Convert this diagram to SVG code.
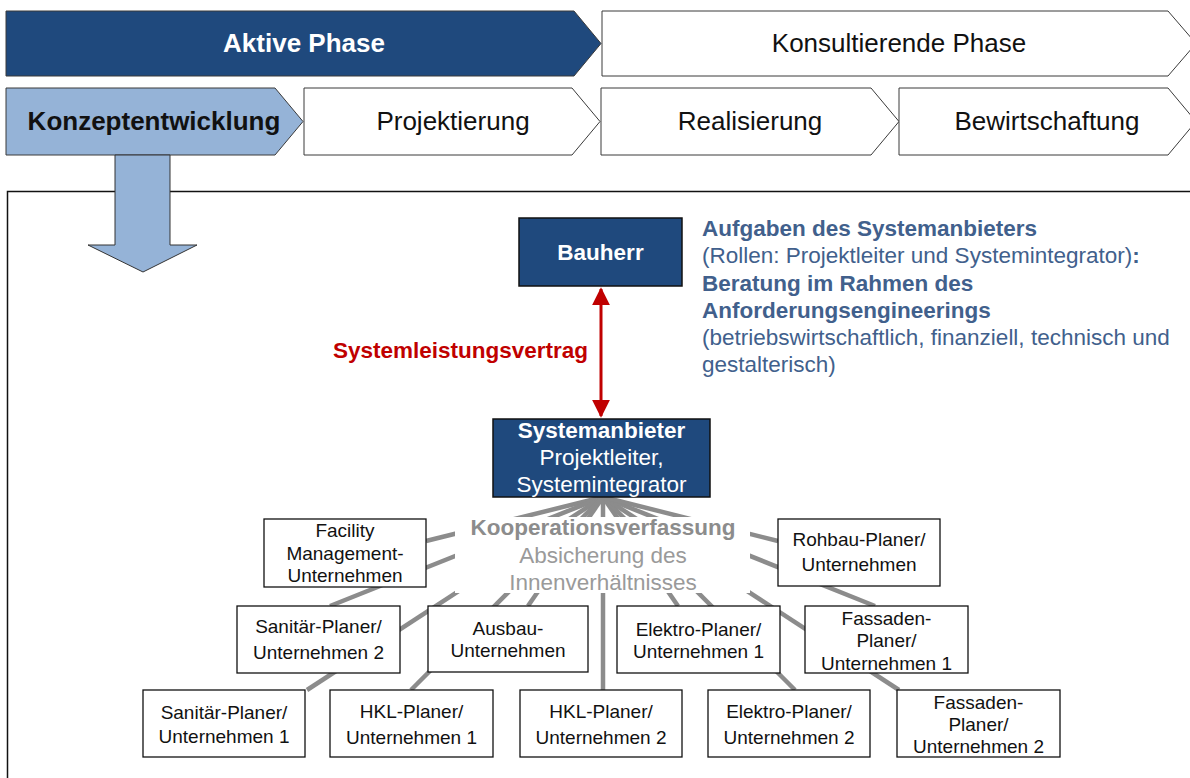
<svg xmlns="http://www.w3.org/2000/svg" width="1190" height="778" viewBox="0 0 1190 778">
  <defs>
    <style>
      text { font-family: "Liberation Sans", Arial, sans-serif; }
      .chev { stroke: #3a3a3a; stroke-width: 1; }
      .dark { fill: #1f497d; }
      .light { fill: #95b3d7; }
      .plain { fill: #ffffff; }
      .phase { font-size: 26px; text-anchor: middle; }
      .node { fill: #1f497d; stroke: #111111; stroke-width: 1.5; }
      .leaf { fill: #ffffff; stroke: #111111; stroke-width: 1.3; }
      .lt { font-size: 19px; text-anchor: middle; fill: #111111; }
      .nt { font-size: 22.5px; text-anchor: middle; fill: #ffffff; }
      .info { font-size: 22.5px; fill: #41608c; }
      .coop { font-size: 22.5px; text-anchor: middle; }
      .spoke { stroke: #8c8c8c; stroke-width: 4.5; fill: none; }
      .contract { stroke: #c00000; stroke-width: 3; fill: none; }
    </style>
    <marker id="redhead" viewBox="0 0 10 10" refX="9" refY="5" markerWidth="6" markerHeight="6.5" markerUnits="strokeWidth" orient="auto-start-reverse">
      <path d="M0,0 L10,5 L0,10 z" fill="#c00000"/>
    </marker>
  </defs>

  <!-- phase chevrons, first row -->
  <g id="phase-aktiv">
    <polygon class="chev dark" points="6,11 574,11 601,43.5 574,76 6,76"/>
    <text class="phase" x="304" y="52" font-weight="bold" fill="#ffffff">Aktive Phase</text>
  </g>
  <g id="phase-konsultierend">
    <polygon class="chev plain" points="602,11 1168,11 1196,43.5 1168,76 602,76"/>
    <text class="phase" x="899" y="52" fill="#111111">Konsultierende Phase</text>
  </g>

  <!-- phase chevrons, second row -->
  <g id="step-konzept">
    <polygon class="chev light" points="6,88 275,88 303,121.5 275,155 6,155"/>
    <text class="phase" x="154" y="130" font-weight="bold" fill="#111111">Konzeptentwicklung</text>
  </g>
  <g id="step-projektierung">
    <polygon class="chev plain" points="304,88 572,88 600,121.5 572,155 304,155"/>
    <text class="phase" x="453" y="130" fill="#111111">Projektierung</text>
  </g>
  <g id="step-realisierung">
    <polygon class="chev plain" points="601,88 871,88 899,121.5 871,155 601,155"/>
    <text class="phase" x="750" y="130" fill="#111111">Realisierung</text>
  </g>
  <g id="step-bewirtschaftung">
    <polygon class="chev plain" points="899,88 1168,88 1196,121.5 1168,155 899,155"/>
    <text class="phase" x="1047" y="130" fill="#111111">Bewirtschaftung</text>
  </g>

  <!-- detail frame -->
  <rect id="frame" x="7.5" y="191.5" width="1200" height="600" fill="none" stroke="#111111" stroke-width="1.5"/>

  <!-- drill-down arrow -->
  <g id="drill-arrow">
    <polygon points="115,155 170,155 170,245 197,245 143,272 88,245 115,245" fill="#95b3d7" stroke="#333333" stroke-width="1"/>
  </g>

  <!-- connectors -->
  <g id="connectors">
    <line class="contract" x1="601" y1="289" x2="601" y2="416" marker-start="url(#redhead)" marker-end="url(#redhead)"/>
    <g id="spokes">
      <line class="spoke" x1="603" y1="497" x2="426" y2="541"/>
      <line class="spoke" x1="603" y1="497" x2="330" y2="606"/>
      <line class="spoke" x1="603" y1="497" x2="307" y2="690"/>
      <line class="spoke" x1="603" y1="497" x2="411" y2="690"/>
      <line class="spoke" x1="603" y1="497" x2="528" y2="606"/>
      <line class="spoke" x1="603" y1="497" x2="603" y2="690"/>
      <line class="spoke" x1="603" y1="497" x2="678" y2="606"/>
      <line class="spoke" x1="603" y1="497" x2="795" y2="690"/>
      <line class="spoke" x1="603" y1="497" x2="899" y2="690"/>
      <line class="spoke" x1="603" y1="497" x2="875" y2="606"/>
      <line class="spoke" x1="603" y1="497" x2="778" y2="541"/>
    </g>
  </g>

  <text id="label-contract" x="588" y="358" font-size="22.5" font-weight="bold" fill="#c00000" text-anchor="end">Systemleistungsvertrag</text>

  <!-- cooperation statute label on a white ground -->
  <g id="kooperation">
    <rect x="455" y="517" width="295" height="76" fill="#ffffff"/>
    <text class="coop" x="603" y="535" font-weight="bold" fill="#8c8c8c">Kooperationsverfassung</text>
    <text class="coop" x="603" y="563" fill="#9a9a9a">Absicherung des</text>
    <text class="coop" x="603" y="590" fill="#9a9a9a">Innenverhältnisses</text>
  </g>

  <!-- principal nodes -->
  <g id="bauherr">
    <rect class="node" x="519" y="218" width="163" height="68"/>
    <text class="nt" x="600.5" y="260" font-weight="bold">Bauherr</text>
  </g>
  <g id="systemanbieter">
    <rect class="node" x="493" y="419" width="217" height="78"/>
    <text class="nt" x="601.5" y="438" font-weight="bold">Systemanbieter</text>
    <text class="nt" x="601.5" y="465">Projektleiter,</text>
    <text class="nt" x="601.5" y="492">Systemintegrator</text>
  </g>

  <!-- task description -->
  <g id="aufgaben">
    <text class="info" x="702" y="235.5" font-weight="bold">Aufgaben des Systemanbieters</text>
    <text class="info" x="702" y="263">(Rollen: Projektleiter und Systemintegrator)<tspan font-weight="bold">:</tspan></text>
    <text class="info" x="702" y="290.5" font-weight="bold">Beratung im Rahmen des</text>
    <text class="info" x="702" y="317.5" font-weight="bold">Anforderungsengineerings</text>
    <text class="info" x="702" y="345">(betriebswirtschaftlich, finanziell, technisch und</text>
    <text class="info" x="702" y="371.5">gestalterisch)</text>
  </g>

  <!-- partner nodes -->
  <g id="facility">
    <rect class="leaf" x="264" y="519" width="162" height="68"/>
    <text class="lt" x="345" y="537">Facility</text>
    <text class="lt" x="345" y="560">Management-</text>
    <text class="lt" x="345" y="582">Unternehmen</text>
  </g>
  <g id="rohbau">
    <rect class="leaf" x="778" y="519" width="162" height="67"/>
    <text class="lt" x="859" y="546">Rohbau-Planer/</text>
    <text class="lt" x="859" y="571">Unternehmen</text>
  </g>
  <g id="sanitaer-2">
    <rect class="leaf" x="237" y="606" width="163" height="67"/>
    <text class="lt" x="318.5" y="633">Sanitär-Planer/</text>
    <text class="lt" x="318.5" y="659">Unternehmen 2</text>
  </g>
  <g id="ausbau">
    <rect class="leaf" x="428" y="606" width="160" height="66"/>
    <text class="lt" x="508" y="635">Ausbau-</text>
    <text class="lt" x="508" y="657">Unternehmen</text>
  </g>
  <g id="elektro-1">
    <rect class="leaf" x="617" y="606" width="163" height="67"/>
    <text class="lt" x="698.5" y="636">Elektro-Planer/</text>
    <text class="lt" x="698.5" y="658">Unternehmen 1</text>
  </g>
  <g id="fassaden-1">
    <rect class="leaf" x="805" y="606" width="163" height="67"/>
    <text class="lt" x="886.5" y="625">Fassaden-</text>
    <text class="lt" x="886.5" y="647">Planer/</text>
    <text class="lt" x="886.5" y="670">Unternehmen 1</text>
  </g>
  <g id="sanitaer-1">
    <rect class="leaf" x="143" y="690" width="162" height="67"/>
    <text class="lt" x="224" y="719">Sanitär-Planer/</text>
    <text class="lt" x="224" y="743">Unternehmen 1</text>
  </g>
  <g id="hkl-1">
    <rect class="leaf" x="330" y="690" width="163" height="67"/>
    <text class="lt" x="411.5" y="718">HKL-Planer/</text>
    <text class="lt" x="411.5" y="744">Unternehmen 1</text>
  </g>
  <g id="hkl-2">
    <rect class="leaf" x="520" y="690" width="162" height="67"/>
    <text class="lt" x="601" y="718">HKL-Planer/</text>
    <text class="lt" x="601" y="744">Unternehmen 2</text>
  </g>
  <g id="elektro-2">
    <rect class="leaf" x="708" y="690" width="162" height="67"/>
    <text class="lt" x="789" y="718">Elektro-Planer/</text>
    <text class="lt" x="789" y="744">Unternehmen 2</text>
  </g>
  <g id="fassaden-2">
    <rect class="leaf" x="897" y="690" width="163" height="67"/>
    <text class="lt" x="978.5" y="709">Fassaden-</text>
    <text class="lt" x="978.5" y="731">Planer/</text>
    <text class="lt" x="978.5" y="753">Unternehmen 2</text>
  </g>
</svg>
